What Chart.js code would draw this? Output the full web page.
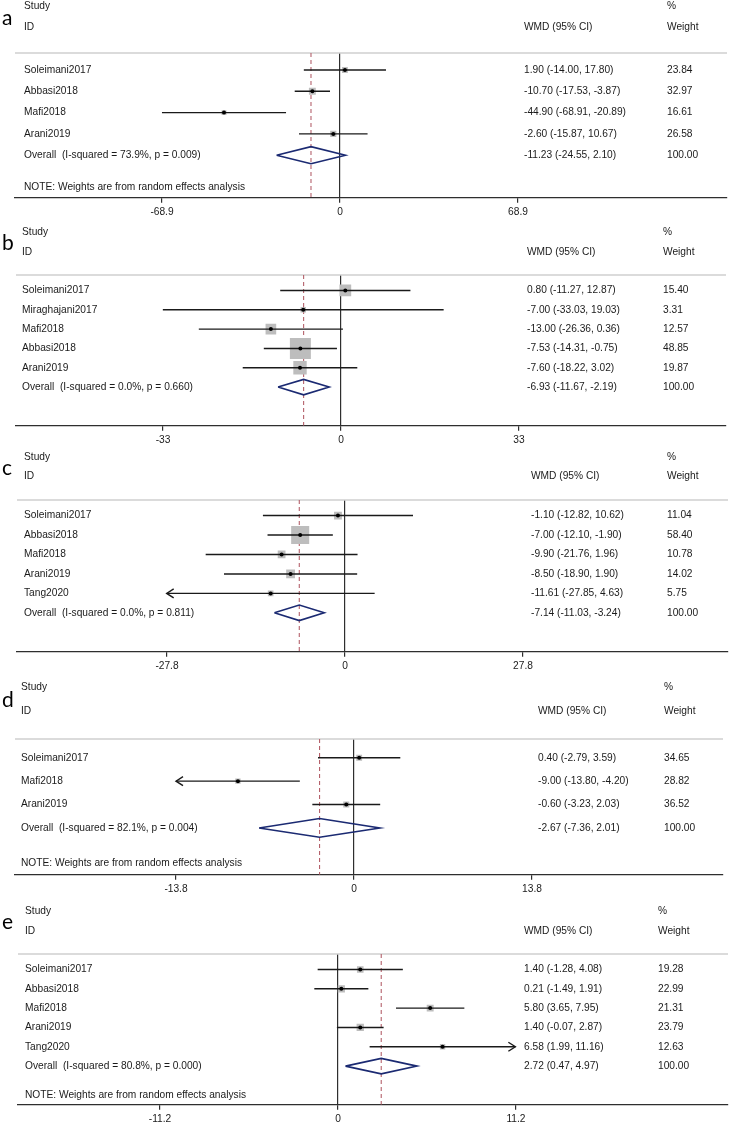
<!DOCTYPE html>
<html>
<head>
<meta charset="utf-8">
<title>Forest plots a-e</title>
<script src="https://cdn.jsdelivr.net/npm/chart.js@4.4.1/dist/chart.umd.min.js"></script>
<style>
  body { margin: 0; background: #fff; }
  canvas { display: block; }
</style>
</head>
<body>
<canvas id="plot-a" width="733" height="220"></canvas>
<canvas id="plot-b" width="733" height="225"></canvas>
<canvas id="plot-c" width="733" height="225"></canvas>
<canvas id="plot-d" width="733" height="225"></canvas>
<canvas id="plot-e" width="733" height="231"></canvas>
<script>
// ---- Data ----

// a
const studiesA = ['Soleimani2017', 'Abbasi2018', 'Mafi2018', 'Arani2019'];
const wmdA = [1.90, -10.70, -44.90, -2.60];
const lowA = [-14.00, -17.53, -68.91, -15.87];
const highA = [17.80, -3.87, -20.89, 10.67];
const weightA = [23.84, 32.97, 16.61, 26.58];
const overallA = [-11.23, -24.55, 2.10];
const hetA = 'I-squared = 73.9%, p = 0.009';
const ticksA = [-68.9, 0, 68.9];
const arrowsA = [null, null, null, null];

// b
const studiesB = ['Soleimani2017', 'Miraghajani2017', 'Mafi2018', 'Abbasi2018', 'Arani2019'];
const wmdB = [0.80, -7.00, -13.00, -7.53, -7.60];
const lowB = [-11.27, -33.03, -26.36, -14.31, -18.22];
const highB = [12.87, 19.03, 0.36, -0.75, 3.02];
const weightB = [15.40, 3.31, 12.57, 48.85, 19.87];
const overallB = [-6.93, -11.67, -2.19];
const hetB = 'I-squared = 0.0%, p = 0.660';
const ticksB = [-33, 0, 33];
const arrowsB = [null, null, null, null, null];

// c
const studiesC = ['Soleimani2017', 'Abbasi2018', 'Mafi2018', 'Arani2019', 'Tang2020'];
const wmdC = [-1.10, -7.00, -9.90, -8.50, -11.61];
const lowC = [-12.82, -12.10, -21.76, -18.90, -27.85];
const highC = [10.62, -1.90, 1.96, 1.90, 4.63];
const weightC = [11.04, 58.40, 10.78, 14.02, 5.75];
const overallC = [-7.14, -11.03, -3.24];
const hetC = 'I-squared = 0.0%, p = 0.811';
const ticksC = [-27.8, 0, 27.8];
const arrowsC = [null, null, null, null, 'left'];

// d
const studiesD = ['Soleimani2017', 'Mafi2018', 'Arani2019'];
const wmdD = [0.40, -9.00, -0.60];
const lowD = [-2.79, -13.80, -3.23];
const highD = [3.59, -4.20, 2.03];
const weightD = [34.65, 28.82, 36.52];
const overallD = [-2.67, -7.36, 2.01];
const hetD = 'I-squared = 82.1%, p = 0.004';
const ticksD = [-13.8, 0, 13.8];
const arrowsD = [null, 'left', null];

// e
const studiesE = ['Soleimani2017', 'Abbasi2018', 'Mafi2018', 'Arani2019', 'Tang2020'];
const wmdE = [1.40, 0.21, 5.80, 1.40, 6.58];
const lowE = [-1.28, -1.49, 3.65, -0.07, 1.99];
const highE = [4.08, 1.91, 7.95, 2.87, 11.16];
const weightE = [19.28, 22.99, 21.31, 23.79, 12.63];
const overallE = [2.72, 0.47, 4.97];
const hetE = 'I-squared = 80.8%, p = 0.000';
const ticksE = [-11.2, 0, 11.2];
const arrowsE = [null, null, null, null, 'right'];

const NOTE = 'NOTE: Weights are from random effects analysis';

// ---- Styling ----
const FONT = '"Liberation Sans", Arial, sans-serif';
const TEXT = '#1a1a1a';
const LINE = '#1a1a1a';
const BOX = '#bdbdbd';
const NAVY = '#1b2a72';
const RED = '#b5616b';
const HALF_SPAN = 178; // px between 0 and the outer tick

// pixel layout of each panel inside its own canvas
const layouts = [
  { letter: 'a', top: 53, bottom: 198, left: 15, right: 727, zero: 340, nameX: 24, wmdX: 524, weightX: 667, box: 1.2 },
  { letter: 'b', top: 55, bottom: 206, left: 16, right: 726, zero: 341, nameX: 22, wmdX: 527, weightX: 663, box: 3.0 },
  { letter: 'c', top: 55, bottom: 207, left: 17, right: 728, zero: 345, nameX: 24, wmdX: 531, weightX: 667, box: 2.36 },
  { letter: 'd', top: 69, bottom: 205, left: 15, right: 723, zero: 354, nameX: 21, wmdX: 538, weightX: 664, box: 1.0 },
  { letter: 'e', top: 59, bottom: 210, left: 18, right: 728, zero: 338, nameX: 25, wmdX: 524, weightX: 658, box: 1.5 }
];

const panels = [
  { studies: studiesA, wmd: wmdA, low: lowA, high: highA, weight: weightA, overall: overallA, het: hetA, ticks: ticksA, arrows: arrowsA, note: true },
  { studies: studiesB, wmd: wmdB, low: lowB, high: highB, weight: weightB, overall: overallB, het: hetB, ticks: ticksB, arrows: arrowsB, note: false },
  { studies: studiesC, wmd: wmdC, low: lowC, high: highC, weight: weightC, overall: overallC, het: hetC, ticks: ticksC, arrows: arrowsC, note: false },
  { studies: studiesD, wmd: wmdD, low: lowD, high: highD, weight: weightD, overall: overallD, het: hetD, ticks: ticksD, arrows: arrowsD, note: true },
  { studies: studiesE, wmd: wmdE, low: lowE, high: highE, weight: weightE, overall: overallE, het: hetE, ticks: ticksE, arrows: arrowsE, note: true }
];

const AXIS_H = 23; // space chart.js takes for the x axis under the plot

function fmtCI(m, lo, hi) {
    return m.toFixed(2) + ' (' + lo.toFixed(2) + ', ' + hi.toFixed(2) + ')';
}

// text columns, separator and arrow heads
function forestDecor(p, lay) {
    return {
        id: 'forestDecor',
        beforeDatasetsDraw(chart) {
            const { ctx, chartArea } = chart;
            ctx.save();
            ctx.strokeStyle = '#cfcfcf';
            ctx.lineWidth = 1.5;
            ctx.beginPath();
            ctx.moveTo(chartArea.left, chartArea.top);
            ctx.lineTo(chartArea.right, chartArea.top);
            ctx.stroke();
            ctx.restore();
        },
        afterDatasetsDraw(chart) {
            const { ctx } = chart;
            const xs = chart.scales.x, ys = chart.scales.y;
            ctx.save();
            ctx.strokeStyle = LINE;
            ctx.lineWidth = 1.4;
            p.arrows.forEach((dir, i) => {
                if (!dir) return;
                const tip = xs.getPixelForValue(dir === 'left' ? p.low[i] : p.high[i]);
                const y = ys.getPixelForValue(i + 1);
                const d = dir === 'left' ? 7 : -7;
                ctx.beginPath();
                ctx.moveTo(tip + d, y - 4.5);
                ctx.lineTo(tip, y);
                ctx.lineTo(tip + d, y + 4.5);
                ctx.stroke();
            });
            ctx.restore();
        },
        afterDraw(chart) {
            const { ctx } = chart;
            const ys = chart.scales.y;
            const yp = r => ys.getPixelForValue(r);
            const n = p.studies.length;
            ctx.save();
            ctx.fillStyle = TEXT;
            ctx.textBaseline = 'middle';
            ctx.textAlign = 'left';

            ctx.fillStyle = '#000';
            ctx.font = '21px Lato, ' + FONT;
            ctx.fillText(lay.letter, 2, yp(-1.45));

            ctx.fillStyle = TEXT;
            ctx.font = '10.2px ' + FONT;
            ctx.fillText('Study', lay.nameX, yp(-2));
            ctx.fillText('ID', lay.nameX, yp(-1));
            ctx.fillText('WMD (95% CI)', lay.wmdX, yp(-1));
            ctx.fillText('%', lay.weightX, yp(-2));
            ctx.fillText('Weight', lay.weightX, yp(-1));

            p.studies.forEach((s, i) => {
                const y = yp(i + 1);
                ctx.fillText(s, lay.nameX, y);
                ctx.fillText(fmtCI(p.wmd[i], p.low[i], p.high[i]), lay.wmdX, y);
                ctx.fillText(p.weight[i].toFixed(2), lay.weightX, y);
            });
            const yo = yp(n + 1);
            ctx.fillText('Overall  (' + p.het + ')', lay.nameX, yo);
            ctx.fillText(fmtCI(p.overall[0], p.overall[1], p.overall[2]), lay.wmdX, yo);
            ctx.fillText((100).toFixed(2), lay.weightX, yo);
            if (p.note) ctx.fillText(NOTE, lay.nameX, yp(n + 2.5));
            ctx.restore();
        }
    };
}

function makeForest(canvasId, p, lay) {
    const canvas = document.getElementById(canvasId);
    const n = p.studies.length;
    const overallRow = n + 1;
    const L = p.ticks[p.ticks.length - 1];
    const xMin = -L * (lay.zero - lay.left) / HALF_SPAN;
    const xMax = L * (lay.right - lay.zero) / HALF_SPAN;
    const yMin = 0.2, yMax = overallRow + 2;
    const rows = p.studies.map((_, i) => i + 1);

    const ciSets = p.studies.map((s, i) => ({
        label: s,
        data: [{ x: p.low[i], y: rows[i] }, { x: p.high[i], y: rows[i] }],
        showLine: true,
        borderColor: LINE,
        borderWidth: 1.4,
        pointRadius: 0,
        order: 1
    }));

    const est = p.overall[0];
    const datasets = [
        {
            label: 'estimate',
            data: p.wmd.map((v, i) => ({ x: v, y: rows[i] })),
            pointStyle: 'circle',
            pointRadius: 2,
            backgroundColor: '#000',
            borderWidth: 0,
            order: 0
        },
        ...ciSets,
        {
            label: 'weight box',
            data: p.wmd.map((v, i) => ({ x: v, y: rows[i] })),
            pointStyle: 'rect',
            pointRadius: p.weight.map(w => lay.box * Math.sqrt(w) / Math.SQRT2),
            backgroundColor: BOX,
            borderWidth: 0,
            order: 2
        },
        {
            label: 'overall',
            data: [
                { x: p.overall[1], y: overallRow },
                { x: est, y: overallRow - 0.4 },
                { x: p.overall[2], y: overallRow },
                { x: est, y: overallRow + 0.4 },
                { x: p.overall[1], y: overallRow }
            ],
            showLine: true,
            borderColor: NAVY,
            borderWidth: 1.6,
            borderJoinStyle: 'miter',
            pointRadius: 0,
            fill: false,
            order: 3
        },
        {
            label: 'overall line',
            data: [{ x: est, y: yMin }, { x: est, y: yMax }],
            showLine: true,
            borderColor: RED,
            borderWidth: 1.1,
            borderDash: [4, 3],
            pointRadius: 0,
            order: 4
        }
    ];

    return new Chart(canvas, {
        type: 'scatter',
        data: { datasets },
        options: {
            responsive: false,
            animation: false,
            events: [],
            layout: {
                autoPadding: false,
                padding: {
                    top: lay.top,
                    left: lay.left,
                    right: canvas.width - lay.right,
                    bottom: canvas.height - lay.bottom - AXIS_H
                }
            },
            plugins: { legend: { display: false }, tooltip: { enabled: false } },
            scales: {
                x: {
                    type: 'linear',
                    min: xMin,
                    max: xMax,
                    afterBuildTicks: s => { s.ticks = p.ticks.map(v => ({ value: v })); },
                    ticks: {
                        color: TEXT,
                        font: { family: FONT, size: 10.2 },
                        padding: 3,
                        maxRotation: 0,
                        autoSkip: false,
                        callback: v => String(v)
                    },
                    grid: {
                        color: c => (c.tick && c.tick.value === 0) ? '#2e2e2e' : 'rgba(0,0,0,0)',
                        tickColor: '#2e2e2e',
                        tickLength: 5,
                        lineWidth: 1.2
                    },
                    border: { display: true, color: '#2e2e2e', width: 1.2 }
                },
                y: {
                    type: 'linear',
                    reverse: true,
                    min: yMin,
                    max: yMax,
                    display: false
                }
            }
        },
        plugins: [forestDecor(p, lay)]
    });
}

['plot-a', 'plot-b', 'plot-c', 'plot-d', 'plot-e'].forEach((id, i) => {
    makeForest(id, panels[i], layouts[i]);
});
</script>
</body>
</html>
